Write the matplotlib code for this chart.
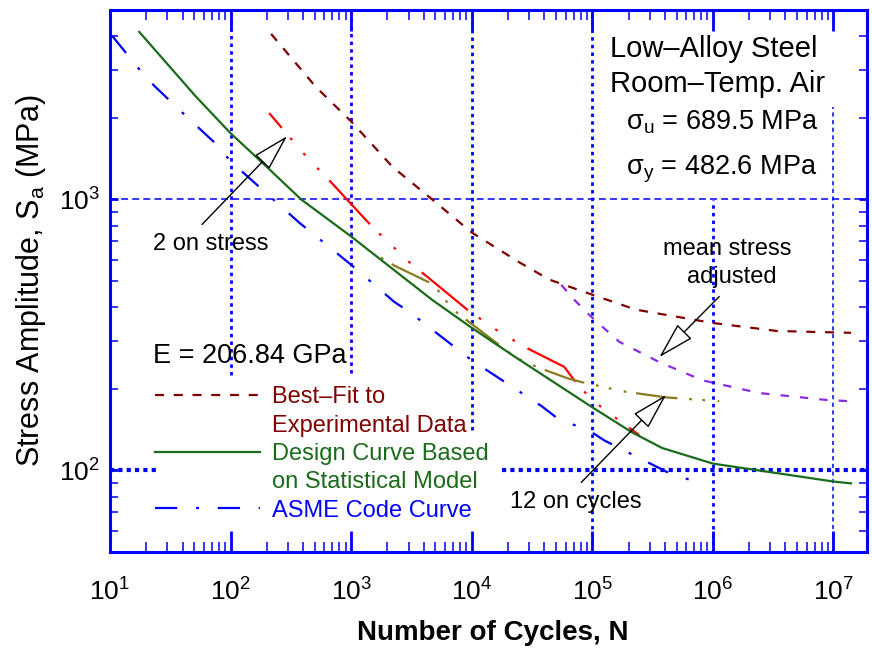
import numpy as np
import matplotlib
matplotlib.use("Agg")
import matplotlib.pyplot as plt
from matplotlib import font_manager
from matplotlib.lines import Line2D
from matplotlib.ticker import FixedLocator, LogLocator, NullFormatter

plt.rcParams["font.family"] = ["Liberation Sans", "DejaVu Sans"]
plt.rcParams["mathtext.fontset"] = "custom"
plt.rcParams["mathtext.rm"] = "Liberation Sans"
plt.rcParams["mathtext.it"] = "Liberation Sans:italic"
plt.rcParams["mathtext.bf"] = "Liberation Sans:bold"
plt.rcParams["lines.scale_dashes"] = False

# best-fit curve to experimental data
cycles_fit = [217, 510, 1000, 2200, 4700, 1e4, 2.5e4, 4.4e4, 1e5, 2.3e5, 1e6, 3.4e6, 1.4e7]
stress_fit = [4080, 2600, 1940, 1320, 1000, 755, 585, 506, 445, 392, 350, 327, 322]

# best-fit curve, mean stress adjusted
cycles_msa = [5.53e4, 7.1e4, 9.8e4, 1.68e5, 3.6e5, 8.2e5, 2.43e6, 8.75e6, 1.4e7]
stress_msa = [484, 426, 369, 298, 251, 215, 193, 182, 180]

# factor of 2 on stress
cycles_f2 = [209, 267, 423, 683, 1490, 3200, 4270, 9180, 1.6e4, 2.73e4, 5.86e4, 7.1e4, 9.1e4, 1.21e5, 2.45e5]
stress_f2 = [2083, 1833, 1443, 1156, 794, 574, 519, 392, 330, 286, 241, 215, 190, 170, 135]

# factor of 12 on cycles
cycles_f12 = [1770, 2280, 4890, 5900, 7600, 2.34e4, 3.63e4, 6.2e4, 8.1e4, 1.78e5, 4.1e5, 1.13e6]
stress_f12 = [610, 570, 484, 430, 381, 260, 239, 219, 212, 196, 186, 180]

# design curve based on statistical model
cycles_des = [17.5, 51, 100, 200, 385, 1000, 4700, 1e4, 2.3e4, 1e5, 2.15e5, 3.8e5, 1e6, 1e7, 1.4e7]
stress_des = [4150, 2410, 1755, 1318, 1000, 730, 426, 336, 262, 171, 138, 121, 106, 91, 89.6]

# ASME code curve
cycles_asme = [10.4, 17.4, 23.2, 42.8, 77.3, 100, 370, 1000, 2275, 3030, 1e4, 3.78e4, 5.02e4, 1e5, 1.26e5, 4.4e5, 8e5]
stress_asme = [4020, 3030, 2630, 2028, 1589, 1383, 822, 574, 419, 385, 255, 173, 157, 138, 129, 97.5, 89.6]

decades = [1e1, 1e2, 1e3, 1e4, 1e5, 1e6, 1e7]

legend_labels = ["Best\u2013Fit to", "Experimental Data", "Design Curve Based",
                 "on Statistical Model", "ASME Code Curve"]

c_fit = "#800000"
c_msa = "#8A2BE2"
c_f2 = "#FF0000"
c_f12 = "#8B7A1F"
c_des = "#1A6B1A"
c_asme = "#0000FF"

fig = plt.figure(figsize=(8.72, 6.48), dpi=100)
ax = fig.add_axes([0.1261, 0.1481, 0.8682, 0.8365])
ax.set_xscale("log")
ax.set_yscale("log")
ax.set_xlim(10, 1.9e7)
ax.set_ylim(50, 5000)

# broken grid lines, kept clear of the text blocks
thick = dict(color="blue", lw=2.0, ls=(0, (2.5, 3.0)), zorder=1)
thin = dict(color="blue", lw=1.1, ls=(0, (3.0, 2.5)), zorder=1)
ax.axvline(1e2, ymin=0.327, **thick)
ax.axvline(1e3, ymin=0.330, **thick)
ax.axvline(1e4, ymin=0.225, **thick)
ax.axvline(1e5, **thick)
ax.axvline(1e6, ymax=0.649, **thick)
ax.axvline(1e7, ymax=0.821, **thin)
ax.axhline(1e3, color="blue", lw=1.1, ls=(0, (5.0, 3.0)), zorder=1)
ax.axhline(1e2, xmax=0.062, color="blue", lw=3.0, ls=(0, (3.0, 3.0)), zorder=1)
ax.axhline(1e2, xmin=0.518, color="blue", lw=3.0, ls=(0, (3.0, 3.0)), zorder=1)

lw = 1.6
l_fit, = ax.plot(cycles_fit, stress_fit, color=c_fit, lw=lw, ls=(0, (6.5, 7.0)))
ax.plot(cycles_msa, stress_msa, color=c_msa, lw=lw, ls=(0, (6.0, 8.0)))
ax.plot(cycles_f2, stress_f2, color=c_f2, lw=lw,
        ls=(29, (43, 9.5, 2, 12.5, 2, 12.5, 2, 10.5)))
ax.plot(cycles_f12, stress_f12, color=c_f12, lw=lw,
        ls=(59, (30, 8.5, 2, 7.5, 2, 9, 2, 7)))
l_asme, = ax.plot(cycles_asme, stress_asme, color=c_asme, lw=lw,
                  ls=(0, (16, 13.5, 2.2, 13.5)))
l_des, = ax.plot(cycles_des, stress_des, color=c_des, lw=lw)

# axes frame and ticks
for s in ax.spines.values():
    s.set_color("blue")
    s.set_linewidth(2.2)
ax.xaxis.set_major_locator(FixedLocator(decades))
ax.xaxis.set_minor_locator(LogLocator(base=10, subs=np.arange(2, 10), numticks=100))
ax.yaxis.set_major_locator(LogLocator(base=10, numticks=20))
ax.yaxis.set_minor_locator(LogLocator(base=10, subs=np.arange(2, 10), numticks=100))
ax.xaxis.set_minor_formatter(NullFormatter())
ax.yaxis.set_minor_formatter(NullFormatter())
ax.set_xticklabels([f"$10^{{{int(np.log10(d))}}}$" for d in decades])
ax.tick_params(which="both", direction="in", top=True, right=True,
               color="blue", labelcolor="black")
ax.xaxis.set_tick_params(which="major", length=15, width=2, pad=19, labelsize=19)
ax.xaxis.set_tick_params(which="minor", length=7, width=1.1)
ax.yaxis.set_tick_params(which="major", length=6, width=2, pad=7, labelsize=19)
ax.yaxis.set_tick_params(which="minor", length=6, width=1.1)

names = {f.name for f in font_manager.fontManager.ttflist}
if "Liberation Sans Narrow" in names:
    xlab_font = dict(family="Liberation Sans Narrow", size=23, weight="bold")
else:
    xlab_font = dict(family="Liberation Sans", size=20, weight="bold")
ax.set_xlabel("Number of Cycles, N", fontdict=xlab_font)
ax.xaxis.set_label_coords(0.506, -0.125)
ax.set_ylabel("Stress Amplitude, S$_\\mathrm{a}$ (MPa)", fontsize=22, va="center")
ax.yaxis.set_label_coords(-0.104, 0.5)

# legend: second lines of the labels get blank keys
blank = Line2D([], [], lw=0)
ax.legend([l_fit, blank, l_des, blank, l_asme], legend_labels,
          loc="upper left", bbox_to_anchor=(0.059, 0.306), frameon=False,
          fontsize=17, handlelength=4.45, handletextpad=0.5, labelspacing=0.27,
          borderpad=0, borderaxespad=0,
          labelcolor=[c_fit, c_fit, c_des, c_des, c_asme])

# material and condition notes
tr = ax.transAxes
ax.text(0.661, 0.913, "Low\u2013Alloy Steel", transform=tr, fontsize=21, va="baseline")
ax.text(0.661, 0.849, "Room\u2013Temp. Air", transform=tr, fontsize=21, va="baseline")
ax.text(0.682, 0.779, "\u03c3$_\\mathrm{u}$ = 689.5 MPa", transform=tr, fontsize=19.5, va="baseline")
ax.text(0.682, 0.696, "\u03c3$_\\mathrm{y}$ = 482.6 MPa", transform=tr, fontsize=19.5, va="baseline")
ax.text(0.057, 0.349, "E = 206.84 GPa", transform=tr, fontsize=19.5, va="baseline")
ax.text(0.057, 0.557, "2 on stress", transform=tr, fontsize=17, va="baseline")
ax.text(0.816, 0.548, "mean stress", transform=tr, fontsize=17, va="baseline", ha="center")
ax.text(0.822, 0.496, "adjusted", transform=tr, fontsize=17, va="baseline", ha="center")
ax.text(0.528, 0.081, "12 on cycles", transform=tr, fontsize=17, va="baseline")

arrow = dict(arrowstyle="-|>,head_length=1.3,head_width=0.36", mutation_scale=18,
             fc="white", ec="black", lw=1.0, shrinkA=0, shrinkB=0)
ax.annotate("", xy=(294, 1711), xytext=(58, 808), arrowprops=arrow)
ax.annotate("", xy=(3.6e5, 262), xytext=(1.13e6, 438), arrowprops=arrow)
ax.annotate("", xy=(4.1e5, 190), xytext=(8.1e4, 90.3), arrowprops=arrow)

fig.savefig("out.png", dpi=100)
